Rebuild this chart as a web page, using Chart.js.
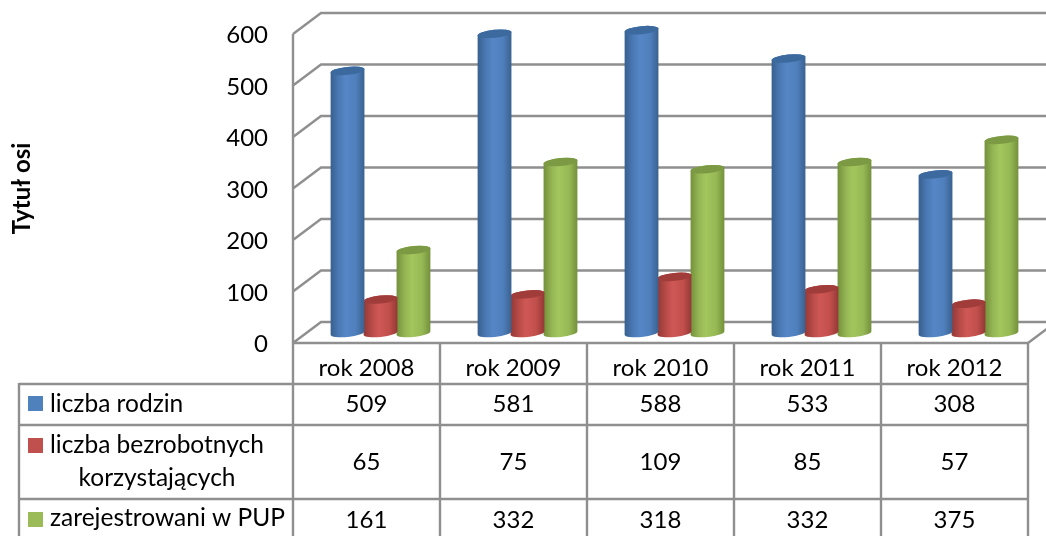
<!DOCTYPE html>
<html><head><meta charset="utf-8">
<style>html,body{margin:0;padding:0;background:#fff}canvas{display:block}</style>
<script src="https://cdn.jsdelivr.net/npm/chart.js@4"></script>
</head><body><canvas id="c" width="1046" height="536"></canvas>
<script>
const categories = ['rok 2008','rok 2009','rok 2010','rok 2011','rok 2012'];
const liczbaRodzin = [509,581,588,533,308];
const liczbaBezrobotnych = [65,75,109,85,57];
const zarejestrowani = [161,332,318,332,375];
const seriesNames = [['liczba rodzin'],['liczba bezrobotnych','korzystających'],['zarejestrowani w PUP']];
const axisTitle = 'Tytuł osi';

const FONT = 'Lato, Carlito, sans-serif';
const FS = 24;
const LEGEND_FS = 24.5;
const GRID = '#8f8f8f';
const INK = '#000';
const DX = 28, DY = 21;       // wall depth
const BX = 14, BY = 10;       // bars sit mid-depth
const palette = [
  {key:'#4f81bd', top:'#3c6a9f', stops:['#38608f','#4a79b4','#5686c6','#4f7fbc','#3a618f']},
  {key:'#c0504d', top:'#a03d3a', stops:['#933835','#b84b48','#cf5855','#c24f4c','#933835']},
  {key:'#9bbb59', top:'#7c9a44', stops:['#73903b','#95b654','#a4c65e','#97b955','#73903b']}
];
const rowLines = [384,425,499];
const rowCenters = [[404],[445,478],[518]];
const valueCenters = [404,462,520];
const keyTops = [396,438,512];
const tableLeft = 19, tableBottom = 537;

const wallsAndTable = {
  id:'wallsAndTable',
  beforeDatasetsDraw(chart){
    const {ctx,scales:{x,y},chartArea:a} = chart;
    const W = chart.width;
    ctx.save();
    ctx.strokeStyle = GRID; ctx.lineWidth = 2.4; ctx.lineCap='butt';
    ctx.beginPath();
    y.ticks.forEach(t=>{
      const py = y.getPixelForValue(t.value);
      ctx.moveTo(a.left,py); ctx.lineTo(a.left+DX,py-DY); ctx.lineTo(W+2,py-DY);
    });
    ctx.moveTo(a.left,a.top); ctx.lineTo(a.left,a.bottom);
    ctx.moveTo(a.right,a.bottom); ctx.lineTo(W+2,a.bottom-DY*(W+2-a.right)/DX);
    ctx.stroke();
    ctx.restore();
  },
  beforeDatasetDraw(chart,args){
    const {ctx} = chart;
    const meta = args.meta, pal = palette[args.index];
    ctx.save();
    meta.data.forEach(el=>{
      const p = el.getProps(['x','y','base','width'],true);
      const cx = p.x+BX, rx = p.width/2+0.5, ry = 4, rot = -0.1;
      const top = p.y-BY, bot = p.base-BY;
      const g = ctx.createLinearGradient(cx-rx,0,cx+rx,0);
      const pos=[0,0.25,0.45,0.75,1];
      pal.stops.forEach((c,i)=>g.addColorStop(pos[i],c));
      ctx.beginPath();
      ctx.ellipse(cx,bot,rx,ry,rot,0,Math.PI);
      ctx.ellipse(cx,top,rx,ry,rot,Math.PI,2*Math.PI);
      ctx.closePath();
      ctx.fillStyle=g; ctx.fill();
      ctx.beginPath();
      ctx.ellipse(cx,top,rx,ry,rot,0,2*Math.PI);
      ctx.fillStyle=pal.top; ctx.fill();
    });
    ctx.restore();
    return false;
  },
  afterDraw(chart){
    const {ctx,scales:{x},chartArea:a} = chart;
    ctx.save();
    ctx.strokeStyle = GRID; ctx.lineWidth = 2.4;
    const step = x.getPixelForValue(1)-x.getPixelForValue(0);
    ctx.beginPath();
    ctx.moveTo(a.left,a.bottom); ctx.lineTo(a.right,a.bottom);
    categories.forEach((c,i)=>{
      const e = x.getPixelForValue(i)-step/2;
      ctx.moveTo(e,a.bottom); ctx.lineTo(e,tableBottom);
    });
    ctx.moveTo(a.right,a.bottom); ctx.lineTo(a.right,tableBottom);
    ctx.moveTo(tableLeft,rowLines[0]-1); ctx.lineTo(tableLeft,tableBottom);
    rowLines.forEach(r=>{ctx.moveTo(tableLeft,r);ctx.lineTo(a.right,r);});
    ctx.stroke();
    ctx.fillStyle=INK; ctx.textBaseline='middle';
    chart.data.datasets.forEach((ds,d)=>{
      ctx.font = FS+'px '+FONT;
      ctx.textAlign='center';
      ds.data.forEach((v,i)=>ctx.fillText(String(v),x.getPixelForValue(i),valueCenters[d]));
      ctx.fillStyle=palette[d].key; ctx.fillRect(28,keyTops[d],15,15); ctx.fillStyle=INK;
      const lines = seriesNames[d];
      ctx.font = LEGEND_FS+'px '+FONT;
      ctx.textAlign='left';
      ctx.fillText(lines[0],50,rowCenters[d][0]);
      if(lines[1]){ctx.textAlign='center';ctx.fillText(lines[1],157,rowCenters[d][1]);}
    });
    ctx.restore();
  }
};

new Chart(document.getElementById('c'),{
  type:'bar',
  data:{labels:categories,datasets:[
    {label:seriesNames[0].join(' '),data:liczbaRodzin,backgroundColor:palette[0].key},
    {label:seriesNames[1].join(' '),data:liczbaBezrobotnych,backgroundColor:palette[1].key},
    {label:seriesNames[2].join(' '),data:zarejestrowani,backgroundColor:palette[2].key}
  ]},
  plugins:[wallsAndTable],
  options:{
    responsive:false,animation:false,
    layout:{padding:{top:34,right:18,left:0,bottom:0}},
    categoryPercentage:0.673,barPercentage:1,
    plugins:{legend:{display:false},tooltip:{enabled:false}},
    scales:{
      x:{
        afterFit(s){s.height=193;s.paddingLeft=0;s.paddingRight=0;},
        grid:{display:false},border:{display:false},
        ticks:{color:INK,font:{family:FONT,size:FS},padding:3,maxRotation:0}
      },
      y:{
        min:0,max:600,
        afterFit(s){s.width=293;s.paddingTop=0;s.paddingBottom=0;},
        grid:{display:false},border:{display:false},
        ticks:{stepSize:100,color:INK,font:{family:FONT,size:FS},padding:17,labelOffset:1.5},
        title:{display:true,text:axisTitle,color:INK,font:{family:FONT,size:24,weight:'bold'},padding:{top:8,bottom:0}}
      }
    }
  }
});
</script></body></html>
